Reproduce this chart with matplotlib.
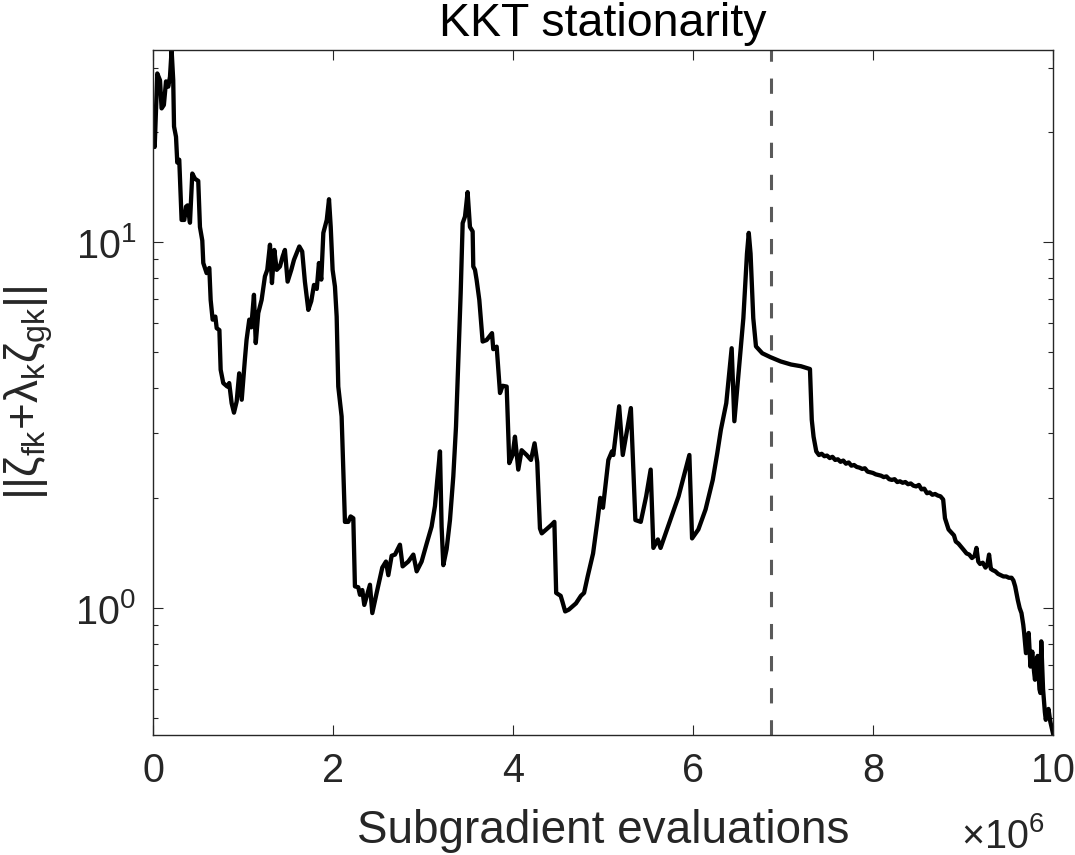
import numpy as np
import matplotlib
matplotlib.use("Agg")
import matplotlib.pyplot as plt
from matplotlib.ticker import LogLocator, NullFormatter

plt.rcParams['font.family'] = ['Liberation Sans', 'DejaVu Sans']
plt.rcParams['mathtext.fontset'] = 'custom'
plt.rcParams['mathtext.rm'] = 'Liberation Sans'
plt.rcParams['mathtext.it'] = 'Liberation Sans'
plt.rcParams['mathtext.bf'] = 'Liberation Sans:bold'

# subgradient evaluations (in units of 1e6) and KKT stationarity values
evals = [
    0.000, 0.019, 0.048, 0.078, 0.096, 0.121, 0.145, 0.170, 0.189, 0.207,
    0.225, 0.234, 0.256, 0.270, 0.292, 0.318, 0.348, 0.367, 0.384, 0.411,
    0.437, 0.467, 0.503, 0.522, 0.548, 0.559, 0.596, 0.626, 0.641, 0.663,
    0.693, 0.708, 0.738, 0.752, 0.781, 0.826, 0.847, 0.874, 0.900, 0.930,
    0.958, 0.986, 1.021, 1.040, 1.070, 1.092, 1.122, 1.142, 1.170, 1.207,
    1.244, 1.270, 1.300, 1.322, 1.348, 1.375, 1.411, 1.441, 1.466, 1.496,
    1.537, 1.567, 1.597, 1.626, 1.658, 1.688, 1.726, 1.759, 1.789, 1.820,
    1.844, 1.870, 1.893, 1.931, 1.956, 1.975, 1.996, 2.022, 2.041, 2.059,
    2.096, 2.133, 2.170, 2.196, 2.226, 2.244, 2.281, 2.300, 2.326, 2.348,
    2.385, 2.411, 2.437, 2.485, 2.548, 2.589, 2.615, 2.652, 2.689, 2.744,
    2.774, 2.837, 2.893, 2.930, 2.985, 3.041, 3.096, 3.133, 3.159, 3.189,
    3.207, 3.226, 3.263, 3.300, 3.337, 3.367, 3.393, 3.419, 3.441, 3.467,
    3.496, 3.522, 3.552, 3.559, 3.578, 3.596, 3.626, 3.663, 3.707, 3.767,
    3.781, 3.819, 3.856, 3.885, 3.930, 3.959, 3.996, 4.022, 4.059, 4.096,
    4.152, 4.200, 4.240, 4.270, 4.300, 4.320, 4.430, 4.460, 4.480, 4.530,
    4.550, 4.580, 4.620, 4.700, 4.755, 4.790, 4.830, 4.890, 4.940, 4.970,
    5.000, 5.060, 5.100, 5.115, 5.180, 5.220, 5.310, 5.360, 5.420, 5.480,
    5.530, 5.560, 5.610, 5.640, 5.685, 5.840, 5.960, 5.990, 6.060, 6.140,
    6.220, 6.270, 6.310, 6.370, 6.430, 6.460, 6.500, 6.560, 6.600, 6.620,
    6.640, 6.670, 6.700, 6.770, 6.860, 6.975, 7.090, 7.200, 7.300, 7.320,
    7.340, 7.370, 7.400, 7.430, 7.460, 7.490, 7.520, 7.550, 7.580, 7.610,
    7.640, 7.670, 7.700, 7.730, 7.760, 7.790, 7.820, 7.850, 7.880, 7.910,
    7.940, 7.970, 8.000, 8.030, 8.060, 8.090, 8.120, 8.150, 8.180, 8.210,
    8.240, 8.270, 8.300, 8.330, 8.360, 8.390, 8.420, 8.450, 8.480, 8.510,
    8.540, 8.570, 8.600, 8.630, 8.660, 8.690, 8.720, 8.750, 8.780, 8.800,
    8.840, 8.870, 8.900, 8.920, 8.950, 8.980, 9.010, 9.040, 9.070, 9.100,
    9.130, 9.150, 9.170, 9.190, 9.220, 9.250, 9.270, 9.290, 9.310, 9.330,
    9.360, 9.390, 9.420, 9.450, 9.480, 9.510, 9.540, 9.560, 9.580, 9.610,
    9.630, 9.650, 9.670, 9.680, 9.700, 9.720, 9.730, 9.750, 9.770, 9.790,
    9.800, 9.820, 9.830, 9.850, 9.860, 9.870, 9.890, 9.910, 9.920, 9.950,
    9.970, 10.00,
]
kkt = [
    19.4, 18.2, 28.9, 27.7, 23.2, 23.7, 27.5, 26.6, 28.3, 33.5,
    27.7, 20.7, 19.4, 16.5, 16.8, 11.5, 11.5, 12.5, 12.6, 11.3,
    15.4, 14.9, 14.7, 11.0, 10.1, 8.77, 8.23, 8.50, 6.95, 6.14,
    6.26, 5.82, 5.75, 4.48, 4.12, 4.03, 4.12, 3.63, 3.42, 3.67,
    4.38, 3.71, 4.77, 5.41, 6.14, 5.85, 7.18, 5.30, 6.40, 6.95,
    8.06, 8.40, 9.84, 7.73, 9.52, 8.40, 8.58, 9.14, 9.52, 7.80,
    8.40, 8.95, 9.33, 9.73, 9.43, 7.80, 6.53, 6.90, 7.64, 7.45,
    8.77, 7.90, 10.6, 11.5, 13.1, 11.0, 8.40, 7.56, 6.26, 4.03,
    3.34, 1.72, 1.72, 1.78, 1.76, 1.146, 1.14, 1.087, 1.12, 1.02,
    1.10, 1.158, 0.969, 1.099, 1.29, 1.34, 1.23, 1.39, 1.40, 1.49,
    1.30, 1.34, 1.40, 1.26, 1.34, 1.50, 1.67, 1.90, 2.24, 2.68,
    1.67, 1.31, 1.45, 1.74, 2.29, 3.13, 4.77, 7.26, 11.27, 11.75,
    13.7, 11.0, 10.7, 8.58, 8.40, 7.89, 6.95, 5.35, 5.40, 5.64,
    5.10, 5.18, 3.87, 4.05, 4.03, 2.49, 2.62, 2.94, 2.39, 2.70,
    2.62, 2.54, 2.82, 2.50, 1.65, 1.60, 1.69, 1.72, 1.10, 1.08,
    1.04, 0.979, 0.99, 1.03, 1.08, 1.10, 1.22, 1.41, 1.74, 2.00,
    1.88, 2.54, 2.68, 2.62, 3.56, 2.62, 3.52, 1.74, 1.72, 2.02,
    2.39, 1.46, 1.54, 1.46, 1.57, 2.02, 2.62, 1.55, 1.64, 1.86,
    2.24, 2.65, 3.07, 3.63, 5.13, 3.24, 4.20, 6.20, 9.30, 10.6,
    9.30, 6.20, 5.19, 4.97, 4.85, 4.72, 4.63, 4.58, 4.50, 3.27,
    2.94, 2.68, 2.62, 2.64, 2.60, 2.61, 2.57, 2.59, 2.54, 2.55,
    2.51, 2.53, 2.48, 2.50, 2.45, 2.46, 2.43, 2.42, 2.40, 2.41,
    2.36, 2.35, 2.34, 2.32, 2.31, 2.30, 2.28, 2.29, 2.25, 2.24,
    2.25, 2.21, 2.22, 2.20, 2.21, 2.18, 2.19, 2.16, 2.15, 2.17,
    2.11, 2.12, 2.06, 2.07, 2.04, 2.05, 2.03, 2.02, 1.98, 1.76,
    1.64, 1.61, 1.58, 1.52, 1.50, 1.47, 1.44, 1.41, 1.40, 1.37,
    1.39, 1.46, 1.34, 1.32, 1.33, 1.29, 1.31, 1.40, 1.28, 1.27,
    1.26, 1.24, 1.23, 1.22, 1.22, 1.21, 1.21, 1.19, 1.146, 1.05,
    1.00, 0.969, 0.90, 0.855, 0.753, 0.82, 0.855, 0.692, 0.76, 0.67,
    0.637, 0.70, 0.74, 0.60, 0.586, 0.811, 0.60, 0.52, 0.495, 0.53,
    0.49, 0.455,
]
switch_point = 6.87

txt = '#262626'
fig = plt.figure(figsize=(10.75, 8.55), dpi=100)
ax = fig.add_axes([0.1423, 0.1404, 0.9795 - 0.1423, 0.9415 - 0.1404])

ax.plot(evals, kkt, color='black', linewidth=3.1)
ax.axvline(switch_point, color='#5a5a5a', linewidth=2.2, linestyle=(0, (5, 5.5)))

ax.set_yscale('log')
ax.set_xlim(0, 10)
ax.set_ylim(0.45, 33.5)
ax.set_xticks([0, 2, 4, 6, 8, 10])
ax.set_xticklabels(['0', '2', '4', '6', '8', '10'])
ax.yaxis.set_major_locator(LogLocator(base=10))
ax.yaxis.set_minor_locator(LogLocator(base=10, subs=np.arange(2, 10)))
ax.yaxis.set_minor_formatter(NullFormatter())

ax.tick_params(which='both', direction='in', top=True, right=True,
               colors=txt, labelsize=28.5, width=0.8)
ax.tick_params(which='major', length=7, pad=12)
ax.tick_params(which='minor', length=3.8)
for s in ax.spines.values():
    s.set_color(txt)
    s.set_linewidth(1.0)

ax.set_title('KKT stationarity', fontsize=33.5, color='black', pad=10)
ax.set_xlabel('Subgradient evaluations', fontsize=33, color=txt, labelpad=14)
ax.set_ylabel(r'$||\zeta_{\mathrm{fk}}$+$\lambda_{\mathrm{k}}\zeta_{\mathrm{gk}}||$',
              fontsize=33, color=txt, labelpad=15)
fig.text(1003 / 1075, 1 - 836 / 855, r'$\times$10$^6$', fontsize=28.5,
         color=txt, ha='center', va='center')

fig.savefig('out.png', dpi=100)
